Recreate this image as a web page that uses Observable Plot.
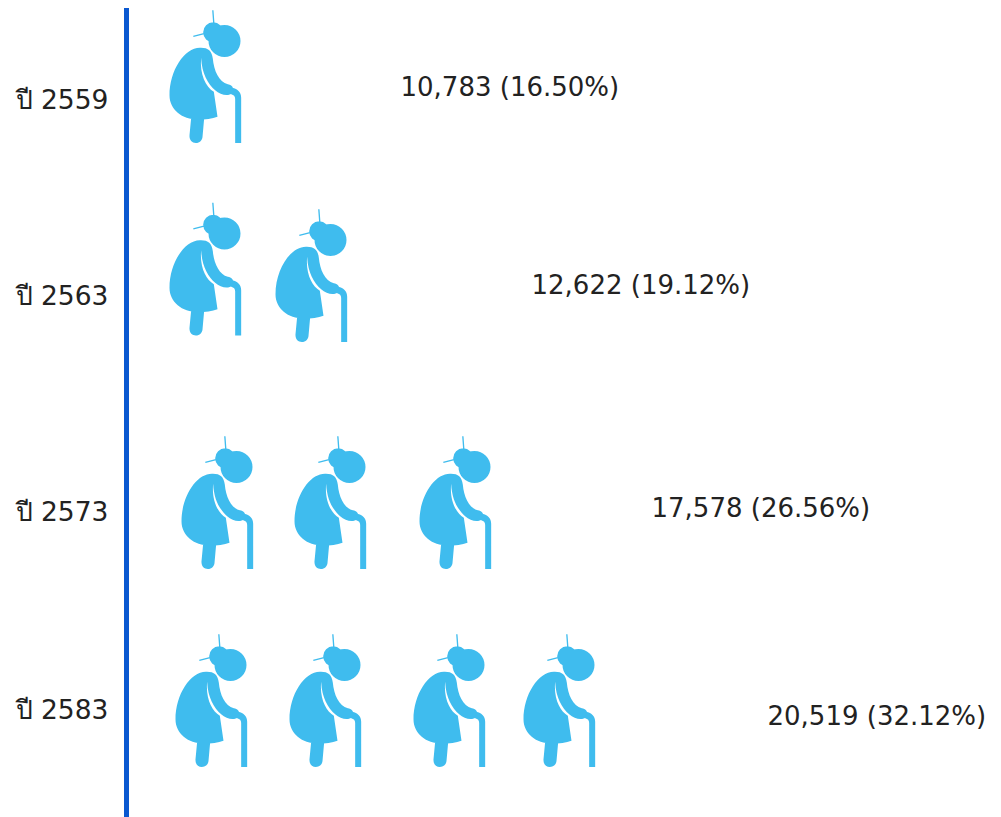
<!DOCTYPE html>
<html lang="th">
<head>
<meta charset="utf-8">
<script src="https://cdn.jsdelivr.net/npm/d3@7"></script>
<script src="https://cdn.jsdelivr.net/npm/@observablehq/plot@0.6"></script>
<style>
  html, body { margin: 0; padding: 0; background: #fff; }
  svg { display: block; }
</style>
</head>
<body>
<div id="chart"></div>
<script>
// Elderly population projection: one row per Buddhist-era year
const years = ["ปี 2559", "ปี 2563", "ปี 2573", "ปี 2583"];
const elderly = [10783, 12622, 17578, 20519];
const shares = [16.50, 19.12, 26.56, 32.12];

// Label anchors per row
const yearY = [100, 296, 512, 710];
const valueX = [400, 531, 651, 767];
const valueY = [87, 285, 508, 716];

// Pictogram placement: one figure per entry, centre of each figure
const iconX = [205, 205, 311, 217, 330, 455, 211, 325, 449, 559];
const iconY = [76.5, 269, 275.5, 502.5, 502.5, 502.5, 700.5, 700.5, 700.5, 700.5];

const ink = "#222222";
const sky = "#3fbcee";
const axisBlue = "#0a58d0";
const ICON_R = 100;

// Stooped figure with a bun and cane, authored on a 3x grid around its centre
const elderFigure = {
  draw(ctx, size) {
    const k = Math.sqrt(size / Math.PI) / ICON_R / 3;
    const X = (v) => (v - 615) * k;
    const Y = (v) => (v - 230) * k;
    const M = (x, y) => ctx.moveTo(X(x), Y(y));
    const L = (x, y) => ctx.lineTo(X(x), Y(y));
    const C = (a, b, c, d, e, f) => ctx.bezierCurveTo(X(a), Y(b), X(c), Y(d), X(e), Y(f));
    const circle = (x, y, r) => {
      ctx.moveTo(X(x + r), Y(y));
      ctx.arc(X(x), Y(y), r * k, 0, 2 * Math.PI);
      ctx.closePath();
    };
    // head and bun
    circle(672, 122, 48);
    circle(638, 96, 30);
    // hairpins
    M(635, 30); L(639, 30); L(642, 70); L(638, 70); ctx.closePath();
    M(578, 106); L(610, 98); L(611, 102); L(579, 110); ctx.closePath();
    // torso, skirt and arm as one outline, with a sliver between arm and body
    M(598, 142);
    C(622, 141, 634, 150, 637, 175);
    C(640, 210, 655, 245, 682, 252);
    C(698, 254, 703, 270, 695, 279);
    C(685, 288, 660, 286, 644, 270);
    C(622, 250, 604, 220, 602, 172);
    C(597, 222, 616, 260, 640, 274);
    L(651, 349);
    C(635, 355, 615, 358, 592, 358);
    C(545, 358, 507, 328, 507, 285);
    C(507, 210, 552, 142, 598, 142);
    ctx.closePath();
    // leg
    M(572, 352);
    L(611, 354);
    L(606, 410);
    C(605, 420, 598, 428, 586, 428);
    C(575, 428, 566, 420, 567, 405);
    ctx.closePath();
    // cane
    M(695, 262);
    C(712, 266, 722, 275, 722, 292);
    L(722, 428);
    L(704, 428);
    L(704, 296);
    C(704, 288, 700, 284, 692, 282);
    ctx.closePath();
  }
};

const chart = Plot.plot({
  width: 1001,
  height: 817,
  margin: 0,
  x: { type: "linear", domain: [0, 1001], range: [0, 1001], axis: null },
  y: { type: "linear", domain: [0, 817], range: [0, 817], axis: null },
  style: { background: "#ffffff" },
  marks: [
    Plot.ruleX([126], { y1: 8, y2: 817, stroke: axisBlue, strokeWidth: 5 }),
    Plot.dot(iconX.map((x, i) => ({ x, y: iconY[i] })), {
      x: "x",
      y: "y",
      r: ICON_R,
      symbol: elderFigure,
      fill: sky,
      stroke: "none"
    }),
    Plot.text(years, {
      x: () => 15,
      y: (d, i) => yearY[i],
      text: (d) => d,
      textAnchor: "start",
      fontSize: 26.5,
      fontFamily: "DejaVu Sans",
      fill: ink
    }),
    Plot.text(elderly, {
      x: (d, i) => valueX[i],
      y: (d, i) => valueY[i],
      text: (d, i) => `${d3.format(",")(d)} (${shares[i].toFixed(2)}%)`,
      textAnchor: "start",
      fontSize: 26,
      fontFamily: "DejaVu Sans",
      fill: ink
    })
  ]
});

document.getElementById("chart").append(chart);
</script>
</body>
</html>
